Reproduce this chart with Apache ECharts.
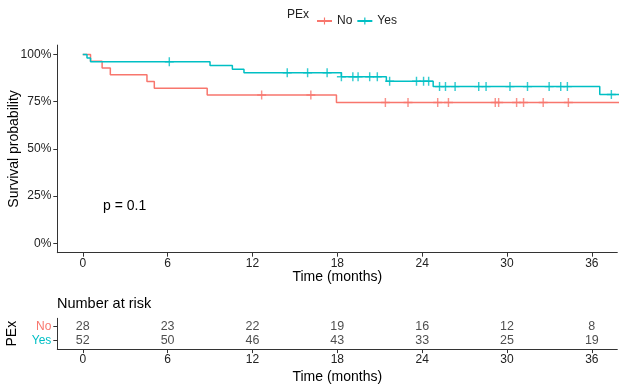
<!DOCTYPE html>
<html><head><meta charset="utf-8">
<script src="https://cdn.jsdelivr.net/npm/echarts@6/dist/echarts.min.js"></script>
<style>html,body{margin:0;padding:0;background:#fff}#c{width:624px;height:389px}</style>
</head><body><div id="c"></div>
<script>
// ---- data ----
const timeTicks = [0, 6, 12, 18, 24, 30, 36];
const yTicks = [0, 0.25, 0.5, 0.75, 1];
const groups = ['No', 'Yes'];
// Kaplan-Meier steps (time, survival)
const noTimes = [0, 0.55, 1.37, 1.95, 4.54, 5.06, 8.8, 17.94, 40];
const noSurv  = [1, 0.964, 0.929, 0.893, 0.857, 0.821, 0.786, 0.746, 0.746];
const yesTimes = [0, 0.3, 0.55, 9.0, 10.58, 11.4, 18.29, 21.47, 24.78, 36.56, 40];
const yesSurv  = [1, 0.981, 0.962, 0.942, 0.922, 0.903, 0.882, 0.858, 0.830, 0.788, 0.788];
// censor times
const noCensor = [12.65, 16.13, 21.4, 23.0, 25.1, 25.86, 29.17, 29.41, 30.68, 31.17, 32.56, 34.34];
const yesCensor = [6.12, 14.46, 15.9, 17.28, 18.29, 19.1, 19.47, 20.29, 20.83, 21.7, 23.6, 24.1, 24.46,
  25.23, 25.65, 26.33, 28.0, 28.52, 30.21, 31.45, 32.98, 33.8, 34.27, 37.38];
// number at risk
const riskNo  = [28, 23, 22, 19, 16, 12, 8];
const riskYes = [52, 50, 46, 43, 33, 25, 19];
const pText = 'p = 0.1';

// ---- styles ----
const RED = '#F8766D', TEAL = '#00BFC4';
const FONT = 'Liberation Sans, Arial, sans-serif';
const PLUS = 'path://M42,0 H58 V42 H100 V58 H58 V100 H42 V58 H0 V42 H42 Z';

function stepLookup(times, surv, t) {
  let s = surv[0];
  for (let i = 0; i < times.length; i++) if (times[i] <= t) s = surv[i];
  return s;
}
const kmNo = noTimes.map((t, i) => [t, noSurv[i]]);
const kmYes = yesTimes.map((t, i) => [t, yesSurv[i]]);
const cenNo = noCensor.map(t => [t, stepLookup(noTimes, noSurv, t)]);
const cenYes = yesCensor.map(t => [t, stepLookup(yesTimes, yesSurv, t)]);
const riskData = [];
timeTicks.forEach((t, i) => { riskData.push([t, 1, riskNo[i]]); riskData.push([t, 2, riskYes[i]]); });

const axisLine = { show: true, onZero: false, lineStyle: { color: '#333', width: 1 } };
const axisTick = { show: true, length: 4, lineStyle: { color: '#333', width: 1 } };

const chart = echarts.init(document.getElementById('c'), null, { renderer: 'canvas' });
chart.setOption({
  animation: false,
  textStyle: { fontFamily: FONT },
  grid: [
    { left: 57.3, right: 6.7, top: 45.1, height: 207.6, containLabel: false, outerBoundsMode: 'none' },
    { left: 57.3, right: 6.7, top: 318.3, height: 30.8, containLabel: false, outerBoundsMode: 'none' }
  ],
  legend: {
    data: groups, left: 311, top: 10, itemWidth: 15, itemHeight: 9, itemGap: 4,
    textStyle: { fontSize: 12, color: '#222', fontFamily: FONT }
  },
  graphic: [
    { type: 'text', left: 287, top: 9, style: { text: 'PEx', fill: '#222', font: '12px ' + FONT } },
    { type: 'text', left: 103, top: 199, style: { text: pText, fill: '#000', font: '14px ' + FONT } },
    { type: 'text', left: 57, top: 296, style: { text: 'Number at risk', fill: '#000', font: '14.5px ' + FONT } }
  ],
  xAxis: [
    { type: 'value', gridIndex: 0, min: -1.8, max: 37.8, splitLine: { show: false },
      axisLine, axisTick: Object.assign({ customValues: timeTicks }, axisTick),
      axisLabel: { customValues: timeTicks, fontSize: 12, color: '#222', margin: 5 },
      name: 'Time (months)', nameLocation: 'middle', nameGap: 17, nameMoveOverlap: false,
      nameTextStyle: { fontSize: 14, color: '#000' } },
    { type: 'value', gridIndex: 1, min: -1.8, max: 37.8, splitLine: { show: false },
      axisLine, axisTick: Object.assign({ customValues: timeTicks }, axisTick),
      axisLabel: { customValues: timeTicks, fontSize: 12, color: '#222', margin: 5 },
      name: 'Time (months)', nameLocation: 'middle', nameGap: 21, nameMoveOverlap: false,
      nameTextStyle: { fontSize: 14, color: '#000' } }
  ],
  yAxis: [
    { type: 'value', gridIndex: 0, min: -0.05, max: 1.05, splitLine: { show: false },
      axisLine, axisTick: Object.assign({ customValues: yTicks }, axisTick),
      axisLabel: { customValues: yTicks, fontSize: 12, color: '#222', margin: 6,
        formatter: v => Math.round(v * 100) + '%' },
      name: 'Survival probability', nameLocation: 'middle', nameGap: 36, nameRotate: 90,
      nameMoveOverlap: false,
      nameTextStyle: { fontSize: 14, color: '#000' } },
    { type: 'value', gridIndex: 1, min: 0.4, max: 2.6, inverse: true, splitLine: { show: false },
      axisLine, axisTick: Object.assign({ customValues: [1, 2] }, axisTick),
      axisLabel: { customValues: [1, 2], margin: 6,
        formatter: v => v === 1 ? '{no|' + groups[0] + '}' : '{yes|' + groups[1] + '}',
        rich: { no: { color: RED, fontSize: 12 }, yes: { color: TEAL, fontSize: 12 } } },
      name: 'PEx', nameLocation: 'middle', nameGap: 38, nameRotate: 90, nameMoveOverlap: false,
      nameTextStyle: { fontSize: 14, color: '#000' } }
  ],
  series: [
    { name: 'No', type: 'line', step: 'end', data: kmNo, xAxisIndex: 0, yAxisIndex: 0,
      color: RED, symbol: PLUS, symbolSize: 9, showSymbol: false, lineStyle: { width: 1.5, color: RED },
      itemStyle: { color: RED }, clip: true },
    { name: 'Yes', type: 'line', step: 'end', data: kmYes, xAxisIndex: 0, yAxisIndex: 0,
      color: TEAL, symbol: PLUS, symbolSize: 9, showSymbol: false, lineStyle: { width: 1.5, color: TEAL },
      itemStyle: { color: TEAL }, clip: true },
    { name: 'No censor', type: 'scatter', data: cenNo, xAxisIndex: 0, yAxisIndex: 0,
      symbol: PLUS, symbolSize: 9, itemStyle: { color: RED } },
    { name: 'Yes censor', type: 'scatter', data: cenYes, xAxisIndex: 0, yAxisIndex: 0,
      symbol: PLUS, symbolSize: 9, itemStyle: { color: TEAL } },
    { name: 'risk', type: 'scatter', data: riskData, xAxisIndex: 1, yAxisIndex: 1,
      symbolSize: 0, label: { show: true, position: 'inside', formatter: p => p.value[2],
        fontSize: 12.5, color: '#222' } }
  ]
});
</script>
</body></html>
